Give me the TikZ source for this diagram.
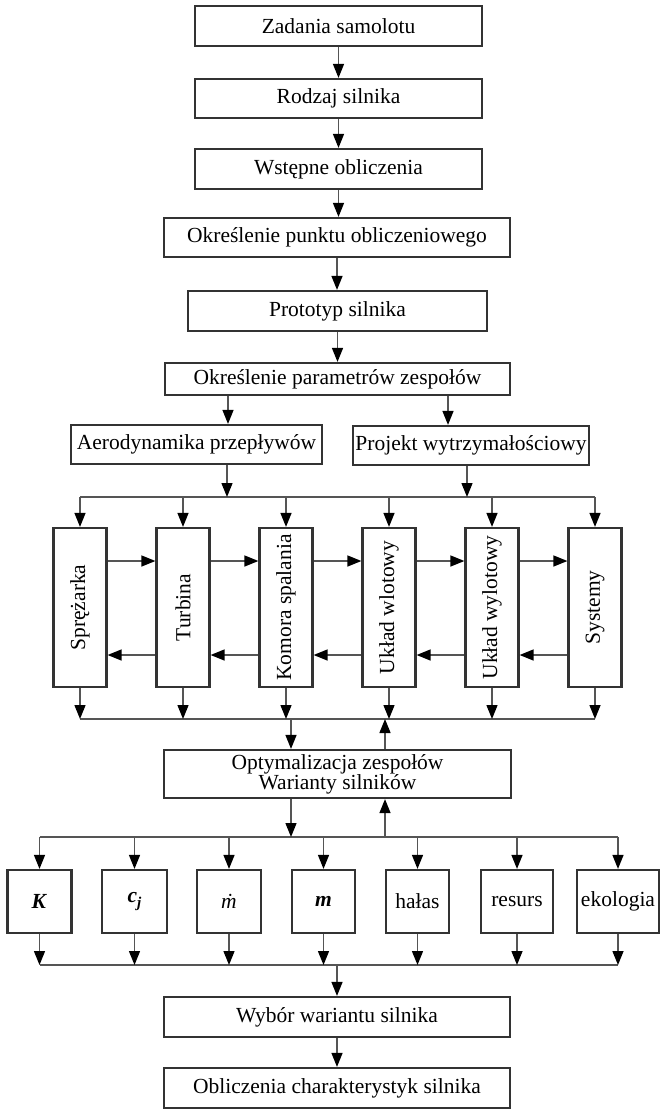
\documentclass[tikz,border=0pt]{standalone}
\usepackage{fontspec}
\setmainfont{Liberation Serif}
\usetikzlibrary{arrows.meta}
\definecolor{boxc}{HTML}{333333}
\definecolor{linec}{HTML}{555555}
\begin{document}
\begin{tikzpicture}[x=1pt,y=-1pt,
  box/.style={draw=boxc, line width=2.2pt, fill=white, inner sep=0pt,
    font=\fontsize{21.5}{20}\selectfont, align=center},
  vtext/.style={rotate=90, inner sep=0pt, font=\fontsize{21.5}{20}\selectfont},
  con/.style={draw=linec, line width=1.4pt},
  arr/.style={con, -{Triangle[length=14pt,width=11pt,color=black]}}]
\useasboundingbox (0,0) rectangle (660,1111);

% top chain
\node[box, minimum width=287pt, minimum height=40pt] (z1) at (338.5,26) {Zadania samolotu};
\node[box, minimum width=287pt, minimum height=39pt] (z2) at (338.5,98.5) {Rodzaj silnika};
\node[box, minimum width=287pt, minimum height=40pt] (z3) at (338.5,169) {Wstępne obliczenia};
\node[box, minimum width=346pt, minimum height=39pt] (z4) at (337,237.5) {Określenie punktu obliczeniowego};
\node[box, minimum width=299pt, minimum height=40pt] (z5) at (337.5,311) {Prototyp silnika};
\node[box, minimum width=345pt, minimum height=32pt] (z6) at (337.5,379) {Określenie parametrów zespołów};

\draw[arr] (z1.south) -- (z1.south |- z2.north);
\draw[arr] (z2.south) -- (z2.south |- z3.north);
\draw[arr] (z3.south) -- (z3.south |- z4.north);
\draw[arr] (z4.south) -- (z4.south |- z5.north);
\draw[arr] (z5.south) -- (z5.south |- z6.north);

% second level
\node[box, minimum width=251pt, minimum height=39pt] (a1) at (196.5,444.5) {Aerodynamika przepływów};
\node[box, minimum width=236pt, minimum height=39pt] (a2) at (471,445.5) {Projekt wytrzymałościowy};
\coordinate (xa) at (228,0);
\coordinate (xb) at (448,0);
\draw[arr] (z6.south -| xa) -- (a1.north -| xa);
\draw[arr] (z6.south -| xb) -- (a2.north -| xb);

% component boxes
\foreach \n/\x/\t in {s1/80/Sprężarka, s2/183/Turbina, s3/286/Komora spalania,
                      s4/389/Układ wlotowy, s5/492/Układ wylotowy, s6/595/Systemy}{
  \node[box, minimum width=53pt, minimum height=159pt] (\n) at (\x,607.5) {};
  \node[vtext] (\n t) at (\n.center) {\t};
}

% bus 1
\coordinate (b1L) at (80,497);
\coordinate (b1R) at (595,497);
\coordinate (b1a) at (227,497);
\coordinate (b1b) at (467,497);
\draw[con] (b1L) -- (b1R);
\draw[arr] (a1.south -| b1a) -- (b1a);
\draw[arr] (a2.south -| b1b) -- (b1b);
\foreach \n in {s1,s2,s3,s4,s5,s6}{
  \draw[arr] (\n.north |- b1L) -- (\n.north);
}

% horizontal links
\coordinate (yU) at (0,561);
\coordinate (yL) at (0,655);
\foreach \a/\b in {s1/s2,s2/s3,s3/s4,s4/s5,s5/s6}{
  \draw[arr] (\a.east |- yU) -- (\b.west |- yU);
  \draw[arr] (\b.west |- yL) -- (\a.east |- yL);
}

% bus 2
\coordinate (b2L) at (80,719);
\coordinate (b2R) at (595,719);
\draw[con] (b2L) -- (b2R);
\foreach \n in {s1,s2,s3,s4,s5,s6}{
  \draw[arr] (\n.south) -- (\n.south |- b2L);
}

% optimisation
\node[box, minimum width=347pt, minimum height=48pt] (opt) at (337.5,774)
  {Optymalizacja zespołów\\Warianty silników};
\coordinate (xd) at (291,0);
\coordinate (xu) at (385,0);
\draw[arr] (b2L -| xd) -- (opt.north -| xd);
\draw[arr] (opt.north -| xu) -- (b2L -| xu);

% bus 3
\coordinate (b3L) at (39.5,837);
\coordinate (b3R) at (618,837);
\draw[con] (b3L) -- (b3R);
\draw[arr] (opt.south -| xd) -- (b3L -| xd);
\draw[arr] (b3L -| xu) -- (opt.south -| xu);

% criteria
\node[box, minimum width=64pt, minimum height=63pt] (k1) at (39.5,901.5) {\textbf{\textit{K}}};
\node[box, minimum width=65pt, minimum height=63pt] (k2) at (134.5,901.5)
  {\textbf{\textit{c}}\raisebox{-5pt}{\fontsize{15}{15}\selectfont\textbf{\textit{j}}}};
\node[box, minimum width=64pt, minimum height=63pt] (k3) at (229,901.5) {\textit{ṁ}};
\node[box, minimum width=63pt, minimum height=63pt] (k4) at (323.5,901.5) {\textbf{\textit{m}}};
\node[box, minimum width=63pt, minimum height=63pt] (k5) at (417.5,901.5) {hałas};
\node[box, minimum width=72pt, minimum height=63pt] (k6) at (517,901.5) {resurs};
\node[box, minimum width=82pt, minimum height=63pt] (k7) at (618,901.5) {ekologia};

% bus 4
\coordinate (b4L) at (39.5,965);
\coordinate (b4R) at (618,965);
\draw[con] (b4L) -- (b4R);
\foreach \n in {k1,k2,k3,k4,k5,k6,k7}{
  \draw[arr] (\n.north |- b3L) -- (\n.north);
  \draw[arr] (\n.south) -- (\n.south |- b4L);
}

% final
\node[box, minimum width=346pt, minimum height=40pt] (w1) at (337,1017) {Wybór wariantu silnika};
\node[box, minimum width=346pt, minimum height=40pt] (w2) at (337,1088) {Obliczenia charakterystyk silnika};
\coordinate (xw) at (337,0);
\draw[arr] (b4L -| xw) -- (w1.north -| xw);
\draw[arr] (w1.south) -- (w1.south |- w2.north);
\end{tikzpicture}
\end{document}
